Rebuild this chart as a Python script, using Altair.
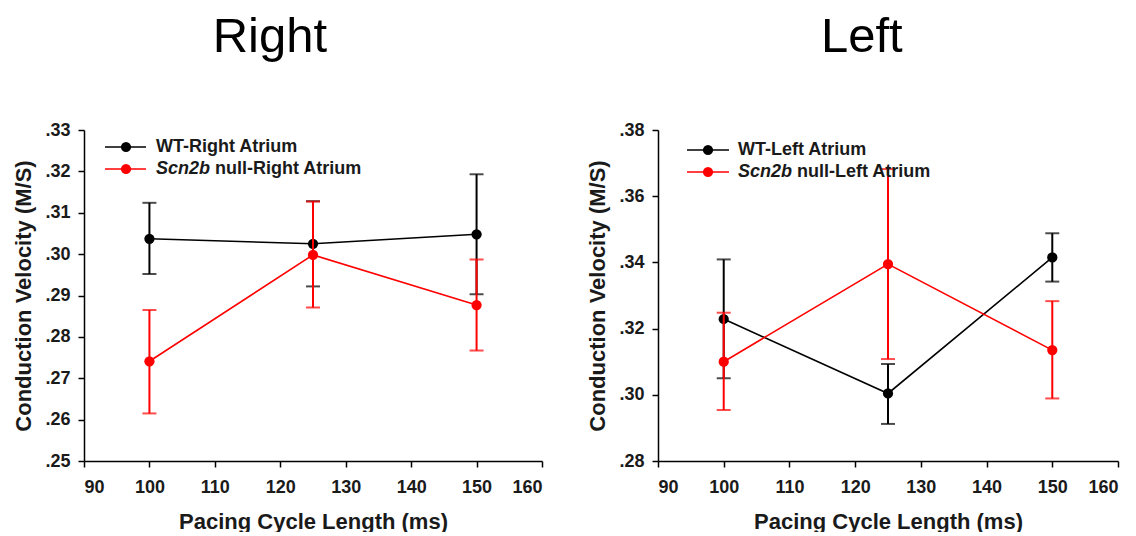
import altair as alt
import pandas as pd

# ---- data ----
x_vals = [100, 125, 150]

right_wt_mean = [0.3037, 0.3025, 0.3048]
right_wt_hi = [0.3124, 0.3128, 0.3193]
right_wt_lo = [0.2952, 0.2922, 0.2903]
right_ko_mean = [0.2741, 0.2998, 0.2877]
right_ko_hi = [0.2865, 0.3127, 0.2987]
right_ko_lo = [0.2615, 0.2871, 0.2767]

left_wt_mean = [0.3229, 0.3004, 0.3415]
left_wt_hi = [0.3409, 0.3093, 0.3488]
left_wt_lo = [0.3050, 0.2912, 0.3342]
left_ko_mean = [0.3100, 0.3395, 0.3135]
left_ko_hi = [0.3248, 0.3682, 0.3283]
left_ko_lo = [0.2954, 0.3108, 0.2989]

x_ticks = [90, 100, 110, 120, 130, 140, 150, 160]
right_y_ticks = [0.25, 0.26, 0.27, 0.28, 0.29, 0.30, 0.31, 0.32, 0.33]
left_y_ticks = [0.28, 0.30, 0.32, 0.34, 0.36, 0.38]

right_legend = ["WT-Right Atrium", "Scn2b", "null-Right Atrium"]
left_legend = ["WT-Left Atrium", "Scn2b", "null-Left Atrium"]

FONT = "Liberation Sans"
BLACK = "#000000"
RED = "#ff0000"
X_TITLE = "Pacing Cycle Length (ms)"
Y_TITLE = "Conduction Velocity (M/S)"


def series_layers(mean, lo, hi, color, xdom, ydom, yticks):
    df = pd.DataFrame({"x": x_vals, "m": mean, "lo": lo, "hi": hi})
    xenc = alt.X("x:Q", scale=alt.Scale(domain=xdom, nice=False, zero=False),
                 axis=alt.Axis(values=x_ticks, title=X_TITLE))
    yscale = alt.Scale(domain=ydom, nice=False, zero=False)
    yaxis = alt.Axis(values=yticks, title=Y_TITLE,
                     labelExpr="substring(format(datum.value, '.2f'), 1)")
    base = alt.Chart(df)
    err = base.mark_errorbar(ticks=True, size=14, thickness=2, color=color).encode(
        x=xenc, y=alt.Y("lo:Q", scale=yscale, axis=yaxis), y2="hi:Q")
    line = base.mark_line(color=color, strokeWidth=1.6).encode(
        x=xenc, y=alt.Y("m:Q", scale=yscale, axis=yaxis))
    pts = base.mark_circle(color=color, size=105, opacity=1).encode(
        x=xenc, y=alt.Y("m:Q", scale=yscale, axis=yaxis))
    return [err, line, pts]


def legend_layers(labels, x0, x1, xm, xt, y1, y2, italic_w):
    one = pd.DataFrame({"k": [0]})
    b = alt.Chart(one)
    layers = []
    for y, col in [(y1, BLACK), (y2, RED)]:
        layers.append(b.mark_rule(color=col, strokeWidth=1.6).encode(
            x=alt.value(x0), x2=alt.value(x1), y=alt.value(y)))
        layers.append(b.mark_circle(color=col, size=105, opacity=1).encode(
            x=alt.value(xm), y=alt.value(y)))
    tstyle = dict(align="left", baseline="middle", font=FONT, fontSize=18,
                  fontWeight="bold", color="#1a1a1a")
    layers.append(b.mark_text(**tstyle).encode(
        x=alt.value(xt), y=alt.value(y1), text=alt.value(labels[0])))
    layers.append(b.mark_text(fontStyle="italic", **tstyle).encode(
        x=alt.value(xt), y=alt.value(y2), text=alt.value(labels[1])))
    layers.append(b.mark_text(**tstyle).encode(
        x=alt.value(xt + italic_w), y=alt.value(y2), text=alt.value(labels[2])))
    return layers


def panel(title, title_dx, wt, ko, ydom, yticks, legend, leg, width):
    xdom = [90, 160]
    layers = (series_layers(*wt, BLACK, xdom, ydom, yticks)
              + series_layers(*ko, RED, xdom, ydom, yticks)
              + legend_layers(legend, *leg))
    return alt.layer(*layers).properties(
        width=width, height=331,
        title=alt.TitleParams(title, font=FONT, fontSize=49, fontWeight="normal",
                              color=BLACK, anchor="middle", frame="bounds",
                              offset=59, dx=title_dx),
    )


right_panel = panel("Right", -8,
                    (right_wt_mean, right_wt_lo, right_wt_hi),
                    (right_ko_mean, right_ko_lo, right_ko_hi),
                    [0.25, 0.33], right_y_ticks, right_legend,
                    (21, 62, 42, 72, 17, 39, 59), 458)
left_panel = panel("Left", 9,
                   (left_wt_mean, left_wt_lo, left_wt_hi),
                   (left_ko_mean, left_ko_lo, left_ko_hi),
                   [0.28, 0.38], left_y_ticks, left_legend,
                   (29, 71, 50, 80, 20, 42, 59), 460)

chart = alt.hconcat(right_panel, left_panel, spacing=43).properties(
    padding={"left": 4, "top": 5, "right": 5, "bottom": 0}
).configure_view(stroke=None).configure_axis(
    grid=False,
    domainColor=BLACK, domainWidth=1.5,
    tickColor=BLACK, tickWidth=1.5, tickSize=6,
    labelFont=FONT, labelFontSize=18, labelFontWeight="bold", labelColor="#1a1a1a",
    titleFont=FONT, titleFontSize=22, titleFontWeight="bold", titleColor="#1a1a1a",
).configure_axisX(titlePadding=15, labelPadding=11).configure_axisY(titlePadding=9, labelPadding=8)

chart.save("out.html", embed_options={"renderer": "svg", "actions": False})
